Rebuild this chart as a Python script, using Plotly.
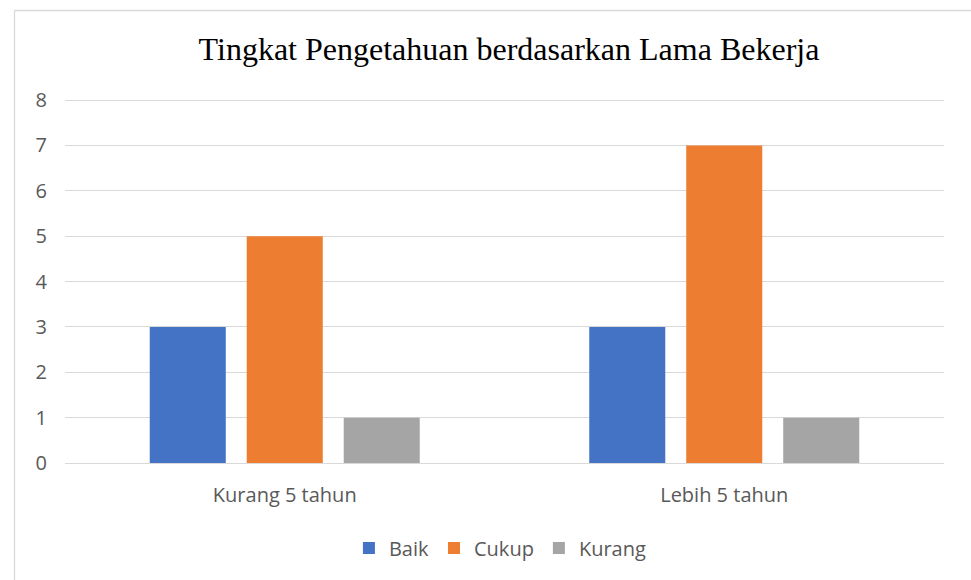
import plotly.graph_objects as go

categories = ["Kurang 5 tahun", "Lebih 5 tahun"]
baik = [3, 3]
cukup = [5, 7]
kurang = [1, 1]
series_names = ["Baik", "Cukup", "Kurang"]
colors = ["#4472C4", "#ED7D31", "#A5A5A5"]
title_text = "Tingkat Pengetahuan berdasarkan Lama Bekerja"

W, H = 971, 580
L, R, T, B = 65, 27, 97, 117
pw, ph = W - L - R, H - T - B
ytop = 8 + 3 / 45.375

fig = go.Figure()
for name, vals, c in zip(series_names, [baik, cukup, kurang], colors):
    fig.add_trace(go.Bar(x=categories, y=vals, name=name, marker_color=c,
                         marker_line_width=0))

def px_x(p):
    return (p - L) / pw

def px_y(p):
    return (H - B - p) / ph

fig.add_shape(type="line", xref="paper", yref="paper",
              x0=px_x(14.5), x1=px_x(14.5), y0=px_y(10.5), y1=px_y(600),
              line=dict(color="#d9d9d9", width=1.3))
fig.add_shape(type="line", xref="paper", yref="paper",
              x0=px_x(14.5), x1=px_x(1000), y0=px_y(10.5), y1=px_y(10.5),
              line=dict(color="#d9d9d9", width=1.3))

fig.update_layout(
    width=W, height=H,
    margin=dict(l=L, r=R, t=T, b=B),
    paper_bgcolor="white", plot_bgcolor="white",
    barmode="group", bargap=0.338, bargroupgap=0.216,
    title=dict(text=title_text, x=509 / W, xanchor="center",
               y=1 - 49 / H, yanchor="middle",
               font=dict(family="Liberation Serif", size=32, color="black")),
    font=dict(family="Open Sans", size=20, color="#595959"),
    xaxis=dict(showgrid=False, showline=False, ticks="", ticklabelstandoff=18,
               tickfont=dict(size=20, color="#595959")),
    yaxis=dict(range=[0, ytop], dtick=1, showgrid=True, gridcolor="#d9d9d9",
               gridwidth=1.3, zeroline=True, zerolinecolor="#d9d9d9",
               zerolinewidth=1.3, showline=False, ticks="",
               ticklabelstandoff=17, tickfont=dict(size=20, color="#595959")),
    legend=dict(orientation="h", x=481 / W, xanchor="center",
                yref="container", y=1 - 548 / H, yanchor="middle",
                font=dict(size=20, color="#595959"), itemwidth=30,
                traceorder="normal"),
)
fig.write_html("out.html", config={"displayModeBar": False},
               post_script="document.body.style.margin='0';")
